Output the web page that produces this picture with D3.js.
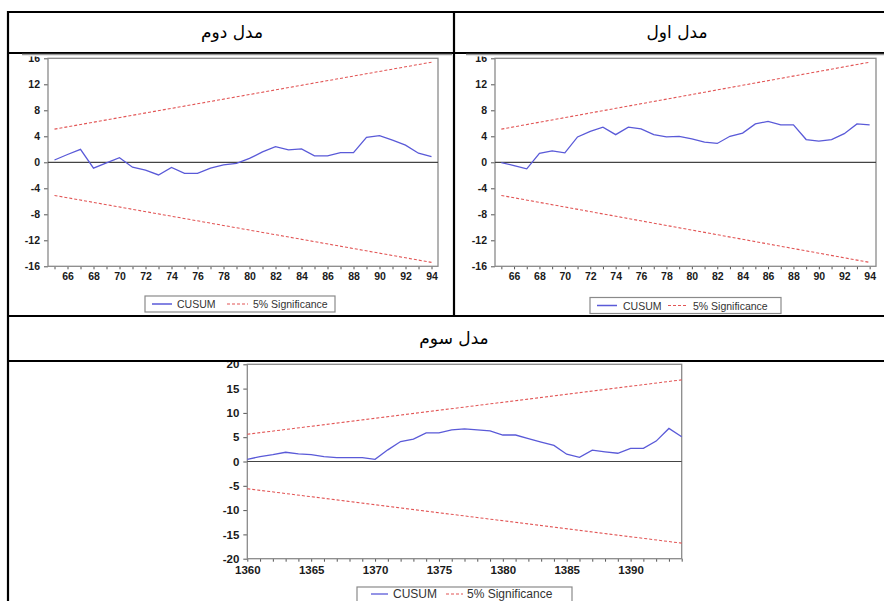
<!DOCTYPE html>
<html>
<head>
<meta charset="utf-8">
<script src="https://cdn.jsdelivr.net/npm/d3@7"></script>
<style>
  body { margin: 0; background: #fff; }
  svg { display: block; }
</style>
</head>
<body>
<div id="chart"></div>
<script>
// Données (CUSUM, trois modèles)
const yearsTop = [65, 66, 67, 68, 69, 70, 71, 72, 73, 74, 75, 76, 77, 78, 79,
                  80, 81, 82, 83, 84, 85, 86, 87, 88, 89, 90, 91, 92, 93, 94];
const labelYearsTop = [66, 68, 70, 72, 74, 76, 78, 80, 82, 84, 86, 88, 90, 92, 94];

const cusumModel2 = [0.35, 1.2, 2.0, -0.9, -0.1, 0.7, -0.75, -1.2, -1.95, -0.8, -1.7, -1.7, -0.9, -0.4, -0.15,
                     0.6, 1.6, 2.4, 1.9, 2.05, 1.0, 1.0, 1.5, 1.5, 3.85, 4.1, 3.4, 2.65, 1.4, 0.86];
const cusumModel1 = [-0.05, -0.5, -1.0, 1.36, 1.75, 1.45, 3.9, 4.75, 5.4, 4.25, 5.4, 5.15, 4.25, 3.9, 4.0,
                     3.6, 3.1, 2.9, 4.0, 4.5, 5.9, 6.3, 5.75, 5.75, 3.5, 3.25, 3.5, 4.4, 5.9, 5.75];
const boundTop = [5.1, 15.4];   // borne 5% au début et à la fin

const yearsBottom = [1360, 1361, 1362, 1363, 1364, 1365, 1366, 1367, 1368, 1369, 1370, 1371,
                     1372, 1373, 1374, 1375, 1376, 1377, 1378, 1379, 1380, 1381, 1382, 1383,
                     1384, 1385, 1386, 1387, 1388, 1389, 1390, 1391, 1392, 1393, 1394];
const labelYearsBottom = [1360, 1365, 1370, 1375, 1380, 1385, 1390];
const cusumModel3 = [0.45, 1.0, 1.4, 1.9, 1.55, 1.4, 1.0, 0.8, 0.8, 0.8, 0.45, 2.4,
                     4.1, 4.6, 5.9, 5.9, 6.5, 6.7, 6.5, 6.3, 5.45, 5.45, 4.7, 4.0,
                     3.3, 1.5, 0.85, 2.35, 2.0, 1.7, 2.7, 2.7, 4.2, 6.8, 5.1];
const boundBottom = [5.6, 16.8];

const yTicksTop = [-16, -12, -8, -4, 0, 4, 8, 12, 16];
const yTicksBottom = [-20, -15, -10, -5, 0, 5, 10, 15, 20];

const headers = ["مدل دوم", "مدل اول", "مدل سوم"];
const legendLabels = ["CUSUM", "5% Significance"];

const blue = "#5a5ad8";
const red = "#e25555";

const svg = d3.select("#chart").append("svg")
    .attr("width", 884)
    .attr("height", 601);

// Tableau (bordures noires)
const tableLines = [
    [8, 12, 900, 12], [8, 11, 8, 601], [454, 12, 454, 316],
    [8, 53, 900, 53], [8, 316, 900, 316], [8, 361, 900, 361]
];
svg.append("g").selectAll("line").data(tableLines).enter().append("line")
    .attr("x1", d => d[0]).attr("y1", d => d[1])
    .attr("x2", d => d[2]).attr("y2", d => d[3])
    .attr("stroke", "#000").attr("stroke-width", 2.2);

// En-têtes
const headerPos = [[232, 33], [677, 33], [454, 339]];
svg.append("g").selectAll("text").data(headers).enter().append("text")
    .attr("x", (d, i) => headerPos[i][0])
    .attr("y", (d, i) => headerPos[i][1])
    .attr("text-anchor", "middle")
    .attr("dominant-baseline", "middle")
    .attr("direction", "rtl")
    .attr("font-family", "'DejaVu Sans', 'Noto Sans', sans-serif")
    .attr("font-size", 17)
    .attr("fill", "#000")
    .text(d => d);

function drawPanel(p) {
    // bord gris du haut de l'image, hors découpe
    if (p.edge) {
        svg.append("line")
            .attr("x1", p.img[0]).attr("x2", p.img[0] + p.img[2])
            .attr("y1", p.edge).attr("y2", p.edge)
            .attr("stroke", "#9a9a9a").attr("stroke-width", 1.5);
    }

    const clipId = "clip-" + p.id;
    svg.append("clipPath").attr("id", clipId).append("rect")
        .attr("x", p.img[0]).attr("y", p.img[1])
        .attr("width", p.img[2]).attr("height", p.img[3]);

    const g = svg.append("g").attr("clip-path", `url(#${clipId})`);

    g.append("rect")
        .attr("x", p.img[0]).attr("y", p.img[1])
        .attr("width", p.img[2]).attr("height", p.img[3])
        .attr("fill", "#fff");

    const x = d3.scaleLinear().domain(p.xDomain).range([p.left, p.right]);
    const y = d3.scaleLinear().domain([p.yTicks[0], p.yTicks[p.yTicks.length - 1]]).range([p.bottom, p.top]);

    // Axe Y
    const yAxis = d3.axisLeft(y).tickValues(p.yTicks).tickSize(4).tickPadding(4)
        .tickFormat(d => String(d));
    const gy = g.append("g").attr("transform", `translate(${p.left},0)`).call(yAxis);
    gy.select(".domain").remove();

    // Axe X (graduations annuelles, étiquettes espacées)
    const xAxis = d3.axisBottom(x).tickValues(p.years).tickSize(3).tickPadding(p.xPad)
        .tickFormat(d => p.labelYears.includes(d) ? String(d) : "");
    const gx = g.append("g").attr("transform", `translate(0,${p.bottom})`).call(xAxis);
    gx.select(".domain").remove();

    [gx, gy].forEach(ax => {
        ax.selectAll(".tick line").attr("stroke", "#555");
        ax.selectAll(".tick text")
            .attr("font-family", "'Liberation Sans', Arial, sans-serif")
            .attr("font-weight", "bold")
            .attr("font-size", p.tickFont)
            .attr("fill", "#1a1a1a");
    });

    // Cadre
    g.append("rect")
        .attr("x", p.left).attr("y", p.top)
        .attr("width", p.right - p.left).attr("height", p.bottom - p.top)
        .attr("fill", "none").attr("stroke", "#8a8a8a").attr("stroke-width", 1.3);

    // Ligne zéro
    g.append("line")
        .attr("x1", p.left).attr("x2", p.right)
        .attr("y1", y(0)).attr("y2", y(0))
        .attr("stroke", "#444").attr("stroke-width", 1.2);

    // Bornes 5%
    const first = p.years[0], last = p.years[p.years.length - 1];
    [1, -1].forEach(s => {
        g.append("line")
            .attr("x1", x(first)).attr("y1", y(s * p.bound[0]))
            .attr("x2", x(last)).attr("y2", y(s * p.bound[1]))
            .attr("stroke", red).attr("stroke-width", 1.1)
            .attr("stroke-dasharray", "3,2");
    });

    // CUSUM
    const line = d3.line().x((d, i) => x(p.years[i])).y(d => y(d));
    g.append("path")
        .attr("d", line(p.values))
        .attr("fill", "none")
        .attr("stroke", blue)
        .attr("stroke-width", 1.3);

    // Légende
    const L = p.legend;
    const lg = g.append("g").attr("transform", `translate(${L.x},${L.y})`);
    lg.append("rect").attr("x", 0).attr("y", 0).attr("width", L.w).attr("height", L.h)
        .attr("fill", "#fff").attr("stroke", "#8a8a8a").attr("stroke-width", 1.2);
    const cy = L.cy;
    lg.append("line").attr("x1", L.items[0][0]).attr("x2", L.items[0][1])
        .attr("y1", cy).attr("y2", cy).attr("stroke", blue).attr("stroke-width", 1.3);
    lg.append("line").attr("x1", L.items[1][0]).attr("x2", L.items[1][1])
        .attr("y1", cy).attr("y2", cy).attr("stroke", red).attr("stroke-width", 1.1)
        .attr("stroke-dasharray", "3,2");
    legendLabels.forEach((t, i) => {
        lg.append("text")
            .attr("x", L.items[i][2]).attr("y", cy)
            .attr("dominant-baseline", "central")
            .attr("font-family", "'Liberation Sans', Arial, sans-serif")
            .attr("font-size", L.font)
            .attr("fill", "#333")
            .text(t);
    });
}

drawPanel({
    id: "m2", img: [22, 56.5, 430, 258], edge: 54.5,
    left: 48, right: 438, top: 58.3, bottom: 266.3,
    xDomain: [64.5, 94.5], years: yearsTop, labelYears: labelYearsTop,
    yTicks: yTicksTop, values: cusumModel2, bound: boundTop,
    tickFont: 10.5, xPad: 3,
    legend: { x: 145, y: 296, w: 190, h: 16, cy: 8, font: 10.5, items: [[7, 27, 32], [82, 103, 108]] }
});

drawPanel({
    id: "m1", img: [466, 56.5, 420, 258], edge: 54.5,
    left: 495, right: 876, top: 58.3, bottom: 266.3,
    xDomain: [64.5, 94.5], years: yearsTop, labelYears: labelYearsTop,
    yTicks: yTicksTop, values: cusumModel1, bound: boundTop,
    tickFont: 10.5, xPad: 3,
    legend: { x: 590, y: 297.5, w: 191, h: 16, cy: 8, font: 10.5, items: [[7, 27, 33], [78, 97, 103]] }
});

drawPanel({
    id: "m3", img: [218, 362, 466, 240], edge: 0,
    left: 247.3, right: 681.7, top: 364.3, bottom: 558.7,
    xDomain: [1360, 1394], years: yearsBottom, labelYears: labelYearsBottom,
    yTicks: yTicksBottom, values: cusumModel3, bound: boundBottom,
    tickFont: 11.5, xPad: 4,
    legend: { x: 357, y: 587, w: 215, h: 18, cy: 7, font: 12, items: [[14, 31, 36], [89, 106, 110]] }
});
</script>
</body>
</html>
